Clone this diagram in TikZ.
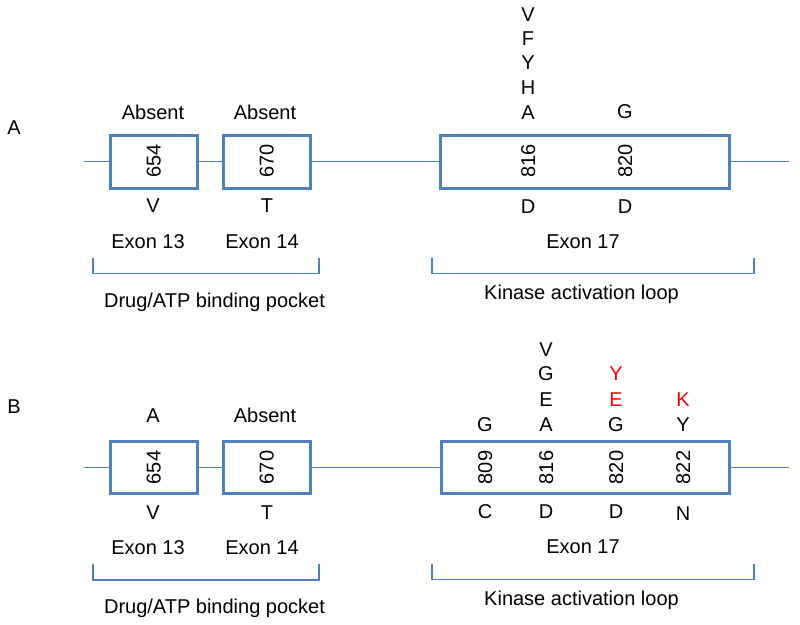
\documentclass[tikz,border=0pt]{standalone}
\usepackage{fontspec}
\setmainfont{Liberation Sans}
\definecolor{exblue}{RGB}{79,129,189}
\definecolor{mutred}{RGB}{255,0,0}
\begin{document}
\begin{tikzpicture}[x=1pt,y=-1pt,
  lab/.style={font=\fontsize{20}{24}\selectfont,inner sep=0pt,text height=14.3pt,text depth=0pt,anchor=center},
  num/.style={lab,rotate=90},
  red/.style={lab,text=mutred},
  exonbox/.style={draw=exblue,line width=3pt,fill=white,inner sep=0pt,minimum height=53pt},
  backbone/.style={draw=exblue,line width=1.4pt},
  bracket/.style={draw=exblue,line width=1.3pt}]
\useasboundingbox (0,0) rectangle (800,624);
\fill[white] (0,0) rectangle (800,624);

% ================= Panel A =================
\node[lab] (pA) at (14,127) {A};
\coordinate (aL) at (84,161.5);
\coordinate (aR) at (789,161.5);
\node[exonbox,minimum width=87pt] (a1) at (153.5,161.5) {};
\node[exonbox,minimum width=87pt] (a2) at (266.5,161.5) {};
\node[exonbox,minimum width=289pt] (a3) at (585,161.5) {};
\draw[backbone] (aL) -- (a1.west);
\draw[backbone] (a1.east) -- (a2.west);
\draw[backbone] (a2.east) -- (a3.west);
\draw[backbone] (a3.east) -- (aR);

\node[num] (a654) at (153.5,161) {654};
\node[num] (a670) at (266.5,161) {670};
\node[num] (a816) at (528,161) {816};
\node[num] (a820) at (625,161) {820};

\node[lab] (aAbs1) at (153,112) {Absent};
\node[lab] (aAbs2) at (265,112) {Absent};
\node[lab] (aV) at (153,205) {V};
\node[lab] (aT) at (267,205) {T};

\node[lab] (a816V) at (528,14) {V};
\node[lab] (a816F) at (528,38) {F};
\node[lab] (a816Y) at (528,62.5) {Y};
\node[lab] (a816H) at (528,87.5) {H};
\node[lab] (a816A) at (528,112.5) {A};
\node[lab] (a820G) at (625,111.5) {G};
\node[lab] (a816D) at (528,206) {D};
\node[lab] (a820D) at (625,206) {D};

\node[lab] (aEx13) at (148,241) {Exon 13};
\node[lab] (aEx14) at (262,241) {Exon 14};
\node[lab] (aEx17) at (583,241) {Exon 17};

\coordinate (aB1a) at (93,258);
\coordinate (aB1b) at (319,258);
\draw[bracket] (aB1a) -- ++(0,15.5) -| (aB1b);
\coordinate (aB2a) at (432,258);
\coordinate (aB2b) at (754,258);
\draw[bracket] (aB2a) -- ++(0,15.5) -| (aB2b);
\node[lab] (aDrug) at (214.5,300.5) {Drug/ATP binding pocket};
\node[lab] (aKin) at (581.5,292) {Kinase activation loop};

% ================= Panel B =================
\node[lab] (pB) at (14,406) {B};
\coordinate (bL) at (84,467.5);
\coordinate (bR) at (789,467.5);
\node[exonbox,minimum width=87pt,minimum height=52pt] (b1) at (153.5,467.5) {};
\node[exonbox,minimum width=87pt,minimum height=52pt] (b2) at (266.5,467.5) {};
\node[exonbox,minimum width=288pt,minimum height=52pt] (b3) at (585,467.5) {};
\draw[backbone] (bL) -- (b1.west);
\draw[backbone] (b1.east) -- (b2.west);
\draw[backbone] (b2.east) -- (b3.west);
\draw[backbone] (b3.east) -- (bR);

\node[num] (b654) at (153.5,467.5) {654};
\node[num] (b670) at (266.5,467.5) {670};
\node[num] (b809) at (485,467.5) {809};
\node[num] (b816) at (546,467.5) {816};
\node[num] (b820) at (616,467.5) {820};
\node[num] (b822) at (683,467.5) {822};

\node[lab] (bA654) at (153,415) {A};
\node[lab] (bAbs) at (265,415) {Absent};
\node[lab] (bV) at (153,512) {V};
\node[lab] (bT) at (267,512) {T};

\node[lab] (b809G) at (485,424) {G};
\node[lab] (b816V) at (546,349) {V};
\node[lab] (b816G) at (546,373.5) {G};
\node[lab] (b816E) at (546,399) {E};
\node[lab] (b816A) at (546,424) {A};
\node[red] (b820Y) at (616,373.5) {Y};
\node[red] (b820E) at (616,399) {E};
\node[lab] (b820G) at (616,424) {G};
\node[red] (b822K) at (683,399) {K};
\node[lab] (b822Y) at (683,424) {Y};

\node[lab] (b809C) at (485,511) {C};
\node[lab] (b816D) at (546,511.5) {D};
\node[lab] (b820D) at (616,511.5) {D};
\node[lab] (b822N) at (683,513) {N};

\node[lab] (bEx13) at (148,547) {Exon 13};
\node[lab] (bEx14) at (262,547) {Exon 14};
\node[lab] (bEx17) at (583,546) {Exon 17};

\coordinate (bB1a) at (93,564);
\coordinate (bB1b) at (319,564);
\draw[bracket] (bB1a) -- ++(0,16) -| (bB1b);
\coordinate (bB2a) at (432,564);
\coordinate (bB2b) at (754,564);
\draw[bracket] (bB2a) -- ++(0,15.5) -| (bB2b);
\node[lab] (bDrug) at (214.5,606.5) {Drug/ATP binding pocket};
\node[lab] (bKin) at (581.5,598) {Kinase activation loop};
\end{tikzpicture}
\end{document}
